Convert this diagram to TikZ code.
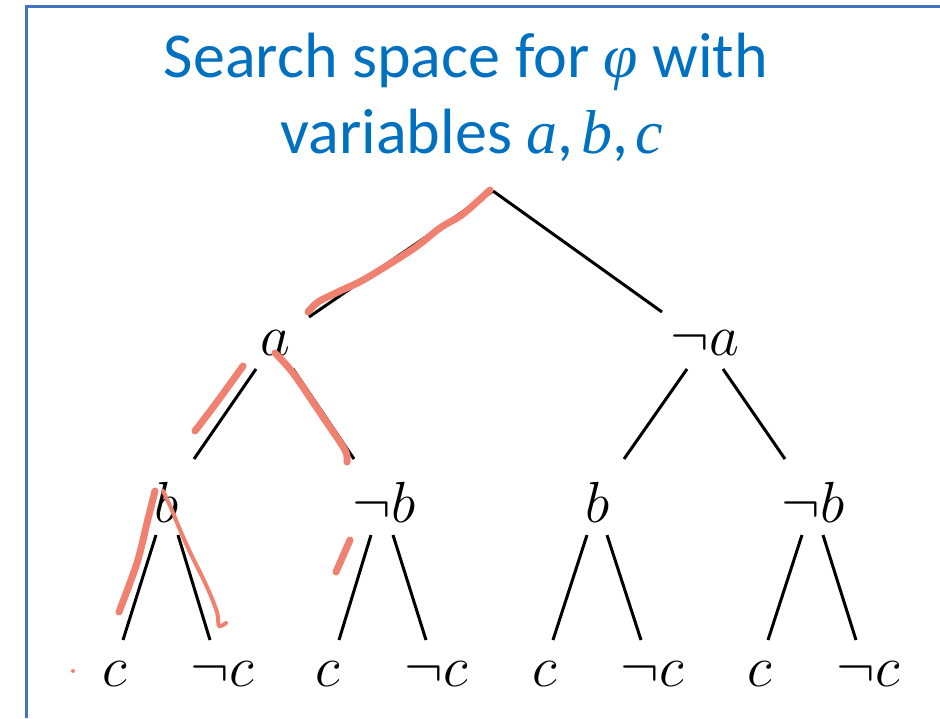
\RequirePackage{fix-cm}
\documentclass[tikz,border=0pt]{standalone}
\usepackage{fontspec}
\newfontfamily\titlefont{Carlito}
\newfontfamily\titlemath{Liberation Serif}
\definecolor{titleblue}{HTML}{0070C0}
\definecolor{framecol}{HTML}{4472C4}
\definecolor{hlred}{HTML}{F08070}
\begin{document}
\begin{tikzpicture}[x=1pt,y=-1pt,
  lit/.style={inner sep=0pt, anchor=base, font=\fontsize{58}{62}\selectfont},
  edge/.style={line width=3pt, black},
  hl/.style={line width=7pt, hlred, line cap=round, line join=round},
  hlthin/.style={line width=4pt, hlred, line cap=round, line join=round},
  ttl/.style={inner sep=0pt, anchor=base, text=titleblue, font=\titlefont\fontsize{64}{72}\selectfont},
  ttm/.style={font=\titlemath\itshape\fontsize{62}{66}\selectfont}]
\useasboundingbox (0,0) rectangle (940,718);
% frame
\draw[framecol, line width=3pt] (26,718) -- (26,6) -- (940,6);
% title
\node[ttl] (t1) at (466,77) {Search space for {\titlemath\itshape\fontsize{62}{66}\selectfont φ} with};
\node[ttl] (t2) at (472,153) {variables {\titlemath\itshape\fontsize{62}{66}\selectfont a},{\kern0.12em}{\titlemath\itshape\fontsize{62}{66}\selectfont b},{\kern0.12em}{\titlemath\itshape\fontsize{62}{66}\selectfont c}};
% tree nodes
\coordinate (root) at (493,191);
\node[lit] (a) at (275,355) {$a$};
\node[lit] (na) at (705,355) {$\neg a$};
\node[lit] (b1) at (167,522) {$b$};
\node[lit] (nb1) at (384,522) {$\neg b$};
\node[lit] (b2) at (598,522) {$b$};
\node[lit] (nb2) at (813,522) {$\neg b$};
\node[lit] (c1) at (115,686) {$c$};
\node[lit] (nc1) at (222,686) {$\neg c$};
\node[lit] (c2) at (328,686) {$c$};
\node[lit] (nc2) at (436,686) {$\neg c$};
\node[lit] (c3) at (545,686) {$c$};
\node[lit] (nc3) at (652,686) {$\neg c$};
\node[lit] (c4) at (760,686) {$c$};
\node[lit] (nc4) at (868,686) {$\neg c$};
% connectors
\draw[edge] (root) -- ([shift={(34,-38)}]a.base);
\draw[edge] (root) -- ([shift={(-43,-43)}]na.base);
\draw[edge] ([shift={(-19,14)}]a.base) -- ([shift={(27,-63)}]b1.base);
\draw[edge] ([shift={(18,14)}]a.base) -- ([shift={(-30,-63)}]nb1.base);
\draw[edge] ([shift={(-18,14)}]na.base) -- ([shift={(26,-63)}]b2.base);
\draw[edge] ([shift={(18,14)}]na.base) -- ([shift={(-28,-63)}]nb2.base);
\draw[edge] ([shift={(-11,13)}]b1.base) -- ([shift={(8,-46)}]c1.base);
\draw[edge] ([shift={(11,13)}]b1.base) -- ([shift={(-12,-46)}]nc1.base);
\draw[edge] ([shift={(-13,13)}]nb1.base) -- ([shift={(11,-46)}]c2.base);
\draw[edge] ([shift={(9,13)}]nb1.base) -- ([shift={(-10,-46)}]nc2.base);
\draw[edge] ([shift={(-11,13)}]b2.base) -- ([shift={(8,-46)}]c3.base);
\draw[edge] ([shift={(9,13)}]b2.base) -- ([shift={(-11,-46)}]nc3.base);
\draw[edge] ([shift={(-11,13)}]nb2.base) -- ([shift={(8,-46)}]c4.base);
\draw[edge] ([shift={(10,13)}]nb2.base) -- ([shift={(-12,-46)}]nc4.base);
% highlighter annotations
\draw[hl] plot[smooth] coordinates {(308,312) (318,302) (340,291) (365,279) (413,249) (440,228) (463,214) (490,190)};
\draw[hl] plot[smooth] coordinates {(243,366) (217,402) (195,431)};
\draw[hl] plot[smooth] coordinates {(275,353) (293,373) (323,417) (345,450) (347,462)};
\draw[hl] plot[smooth] coordinates {(155,491) (147,523) (137,563) (119,612)};
\draw[hlthin] plot[smooth] coordinates {(163,491) (171,508) (178,525) (189,550) (207,587) (217,612) (219,626) (226,623)};
\draw[hl] (350,540) -- (336,572);
\fill[hlred] (73,671) circle (2pt);
\end{tikzpicture}
\end{document}
